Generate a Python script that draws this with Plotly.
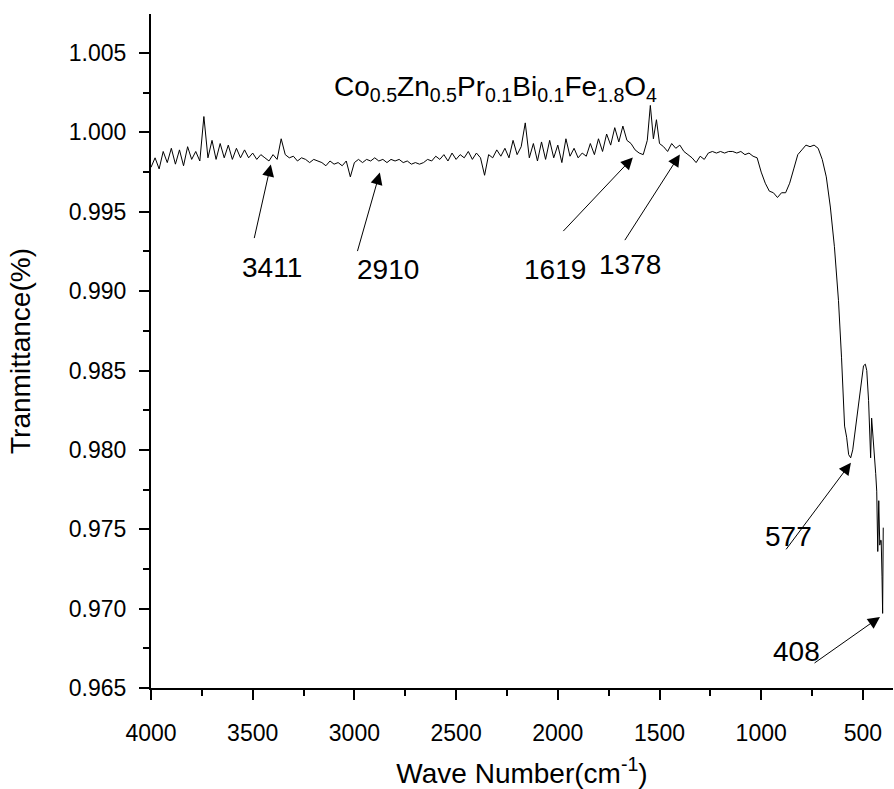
import plotly.graph_objects as go

wavenumber = [
    4000, 3980, 3960, 3940, 3920, 3900, 3880, 3860, 3840, 3820, 3800, 3780, 3760, 3740, 3720, 3700,
    3680, 3660, 3640, 3620, 3600, 3580, 3560, 3540, 3520, 3500, 3480, 3460, 3440, 3420, 3400, 3380,
    3360, 3340, 3320, 3300, 3280, 3260, 3240, 3220, 3200, 3180, 3160, 3140, 3120, 3100, 3080, 3060,
    3040, 3020, 3000, 2980, 2960, 2940, 2920, 2900, 2880, 2860, 2840, 2820, 2800, 2780, 2760, 2740,
    2720, 2700, 2680, 2660, 2640, 2620, 2600, 2580, 2560, 2540, 2520, 2500, 2480, 2460, 2440, 2420,
    2400, 2380, 2360, 2340, 2320, 2300, 2280, 2260, 2240, 2220, 2200, 2180, 2160, 2140, 2120, 2100,
    2080, 2060, 2040, 2020, 2000, 1980, 1960, 1940, 1920, 1900, 1880, 1860, 1840, 1820, 1800, 1780,
    1760, 1740, 1720, 1700, 1680, 1660, 1640, 1620, 1600, 1580, 1560, 1545, 1530, 1515, 1500, 1480,
    1460, 1440, 1420, 1400, 1380, 1360, 1340, 1320, 1300, 1280, 1260, 1240, 1220, 1200, 1180, 1160,
    1140, 1120, 1100, 1080, 1060, 1040, 1020, 1000, 980, 960, 940, 920, 900, 880, 860, 840,
    820, 800, 780, 760, 740, 720, 700, 680, 660, 640, 620, 605, 590, 580, 570, 560,
    550, 540, 526, 510, 497, 488, 481, 472, 466, 462, 457, 452, 447, 442, 437, 432,
    427, 422, 417, 413, 410, 406, 403, 400,
]

transmittance = [
    0.9978, 0.9984, 0.9977, 0.9988, 0.9981, 0.9990, 0.9980, 0.9989, 0.9979, 0.9991, 0.9983, 0.9988, 0.9982, 1.0010, 0.9984, 0.9995,
    0.9983, 0.9993, 0.9984, 0.9992, 0.9983, 0.9990, 0.9984, 0.9989, 0.9984, 0.9987, 0.9983, 0.9986, 0.9984, 0.9982, 0.9986, 0.9983,
    0.9996, 0.9986, 0.9984, 0.9985, 0.9982, 0.9984, 0.9983, 0.9981, 0.9983, 0.9982, 0.9981, 0.9979, 0.9982, 0.9980, 0.9981, 0.9979,
    0.9982, 0.9972, 0.9981, 0.9983, 0.9981, 0.9983, 0.9982, 0.9984, 0.9982, 0.9983, 0.9981, 0.9983, 0.9982, 0.9983, 0.9981, 0.9982,
    0.9980, 0.9981, 0.9980, 0.9981, 0.9983, 0.9982, 0.9985, 0.9983, 0.9986, 0.9982, 0.9987, 0.9983, 0.9986, 0.9984, 0.9988, 0.9983,
    0.9987, 0.9984, 0.9973, 0.9986, 0.9984, 0.9989, 0.9985, 0.9990, 0.9984, 0.9995, 0.9986, 0.9991, 1.0006, 0.9984, 0.9993, 0.9982,
    0.9994, 0.9983, 0.9995, 0.9984, 0.9992, 0.9981, 0.9996, 0.9985, 0.9990, 0.9984, 0.9987, 0.9985, 0.9993, 0.9986, 0.9996, 0.9988,
    0.9999, 0.9992, 1.0003, 0.9994, 1.0004, 0.9995, 0.9993, 0.9989, 0.9987, 0.9986, 0.9995, 1.0017, 0.9996, 1.0008, 0.9993, 0.9991,
    0.9988, 0.9993, 0.9990, 0.9992, 0.9988, 0.9986, 0.9984, 0.9981, 0.9985, 0.9983, 0.9987, 0.9988, 0.9987, 0.9988, 0.9987, 0.9988,
    0.9988, 0.9987, 0.9988, 0.9986, 0.9987, 0.9985, 0.9984, 0.9975, 0.9968, 0.9963, 0.9962, 0.9959, 0.9962, 0.9962, 0.9968, 0.9977,
    0.9986, 0.9989, 0.9992, 0.9991, 0.9992, 0.9990, 0.9983, 0.9972, 0.9953, 0.9928, 0.9894, 0.9858, 0.9815, 0.9808, 0.9797, 0.9795,
    0.9800, 0.9810, 0.9825, 0.9842, 0.9853, 0.9854, 0.9850, 0.9831, 0.9800, 0.9795, 0.9820, 0.9812, 0.9806, 0.9795, 0.9785, 0.9774,
    0.9736, 0.9768, 0.9740, 0.9743, 0.9743, 0.9720, 0.9697, 0.9751,
]

# peak labels: text, arrow tip (x, y), arrow tail (x, y), label centre (x, y)
peak_labels = ["3411", "2910", "1619", "1378", "577", "408"]
tip_x = [3411, 2875, 1631, 1400, 559, 416]
tip_y = [0.99798, 0.99747, 0.99842, 0.99861, 0.97919, 0.96948]
tail_x = [3494, 2987, 1980, 1675, 883, 745]
tail_y = [0.99325, 0.99243, 0.99369, 0.99312, 0.97364, 0.96651]
label_x = [3405, 2835, 2014, 1645, 864, 825]
label_y = [0.99148, 0.99136, 0.99136, 0.99167, 0.97452, 0.96733]

compound = "Co<sub>0.5</sub>Zn<sub>0.5</sub>Pr<sub>0.1</sub>Bi<sub>0.1</sub>Fe<sub>1.8</sub>O<sub>4</sub>"
compound_pos = (2307, 1.00277)

x_ticks = [4000, 3500, 3000, 2500, 2000, 1500, 1000, 500]
y_ticks = [0.965, 0.970, 0.975, 0.980, 0.985, 0.990, 0.995, 1.000, 1.005]

FONT = "Liberation Sans, Arial, sans-serif"

fig = go.Figure()
fig.add_trace(go.Scatter(
    x=wavenumber, y=transmittance, mode="lines",
    line=dict(color="black", width=1), showlegend=False, hoverinfo="skip",
))

annotations = []
for t, tx, ty, ax_, ay_, lx, ly in zip(peak_labels, tip_x, tip_y, tail_x, tail_y, label_x, label_y):
    annotations.append(dict(
        x=tx, y=ty, ax=ax_, ay=ay_, xref="x", yref="y", axref="x", ayref="y",
        text="", showarrow=True, arrowhead=2, arrowsize=2.4, arrowwidth=1, arrowcolor="black",
    ))
    annotations.append(dict(
        x=lx, y=ly, xref="x", yref="y", text=t, showarrow=False,
        font=dict(family=FONT, size=28, color="black"), xanchor="center", yanchor="middle",
    ))
annotations.append(dict(
    x=compound_pos[0], y=compound_pos[1], xref="x", yref="y", text=compound, showarrow=False,
    font=dict(family=FONT, size=28, color="black"), xanchor="center", yanchor="middle",
))

fig.update_layout(
    width=894, height=789,
    margin=dict(l=151, r=1, t=14, b=101, pad=0),
    paper_bgcolor="white", plot_bgcolor="white",
    font=dict(family=FONT, color="black"),
    annotations=annotations,
)
fig.update_xaxes(
    range=[4000, 352], tickvals=x_ticks, ticktext=[str(v) for v in x_ticks],
    showline=True, linecolor="black", linewidth=2, mirror=False,
    ticks="outside", ticklen=10, tickwidth=2, tickcolor="black",
    minor=dict(ticks="outside", ticklen=6, tickwidth=2, tickcolor="black", dtick=250, tick0=0),
    showgrid=False, zeroline=False,
    tickfont=dict(family=FONT, size=23, color="black"), ticklabelstandoff=13,
    title=dict(text="Wave Number(cm<sup>-1</sup>)", font=dict(family=FONT, size=28, color="black"), standoff=20),
)
fig.update_yaxes(
    range=[0.965, 1.00746], tickvals=y_ticks, ticktext=[f"{v:.3f}" for v in y_ticks],
    showline=True, linecolor="black", linewidth=2, mirror=False,
    ticks="outside", ticklen=10, tickwidth=2, tickcolor="black",
    minor=dict(ticks="outside", ticklen=6, tickwidth=2, tickcolor="black", dtick=0.0025, tick0=0.965),
    showgrid=False, zeroline=False,
    tickfont=dict(family=FONT, size=23, color="black"), ticklabelstandoff=8,
    title=dict(text="Tranmittance(%)", font=dict(family=FONT, size=28, color="black"), standoff=30),
)

fig.write_html("out.html")
